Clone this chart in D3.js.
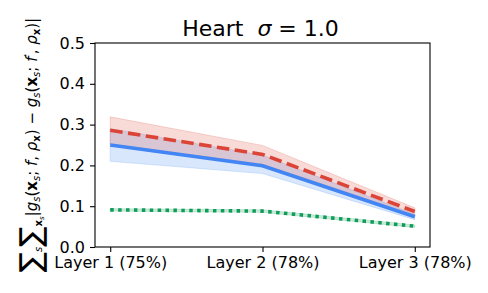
<!DOCTYPE html>
<html>
<head>
<meta charset="utf-8">
<script src="https://cdn.jsdelivr.net/npm/d3@7"></script>
<style>
  body { margin: 0; background: #fff; }
  text { font-family: "DejaVu Sans", sans-serif; }
</style>
</head>
<body>
<svg width="488" height="293"></svg>
<script>
const layers = ["Layer 1 (75%)", "Layer 2 (78%)", "Layer 3 (78%)"];

const blueMean = [0.250, 0.199, 0.074];
const blueLow  = [0.210, 0.180, 0.067];
const blueHigh = [0.290, 0.225, 0.080];

const redMean = [0.286, 0.227, 0.087];
const redLow  = [0.252, 0.203, 0.078];
const redHigh = [0.319, 0.249, 0.096];

const greenMean = [0.091, 0.088, 0.051];
const greenLow  = [0.088, 0.085, 0.048];
const greenHigh = [0.094, 0.091, 0.054];

const yTicks = [0, 0.1, 0.2, 0.3, 0.4, 0.5];

var svg = d3.select("svg"),
    margin = {top: 43, right: 58, bottom: 46, left: 95},
    width = +svg.attr("width") - margin.left - margin.right,
    height = +svg.attr("height") - margin.top - margin.bottom,
    g = svg.append("g").attr("transform", "translate(" + margin.left + "," + margin.top + ")");

var x = d3.scalePoint().domain(layers).range([0, width]).padding(0.1);
var y = d3.scaleLinear().domain([0, 0.5]).range([height, 0]);

function band(lo, hi) {
  return d3.area()
    .x(function(d, i) { return x(layers[i]); })
    .y0(function(d, i) { return y(lo[i]); })
    .y1(function(d, i) { return y(hi[i]); })(lo);
}
var line = d3.line()
    .x(function(d, i) { return x(layers[i]); })
    .y(function(d) { return y(d); });

var series = [
  {mean: blueMean, lo: blueLow, hi: blueHigh, color: "#4285F4", dash: null},
  {mean: redMean, lo: redLow, hi: redHigh, color: "#DB4437", dash: "12.5,5.5"},
  {mean: greenMean, lo: greenLow, hi: greenHigh, color: "#0F9D58", dash: "3.5,4.4"}
];

series.forEach(function(s) {
  g.append("path")
      .attr("d", band(s.lo, s.hi))
      .attr("fill", s.color)
      .attr("fill-opacity", 0.2)
      .attr("stroke", s.color)
      .attr("stroke-opacity", 0.2)
      .attr("stroke-width", 1);
});

series.forEach(function(s) {
  g.append("path")
      .datum(s.mean)
      .attr("fill", "none")
      .attr("stroke", s.color)
      .attr("stroke-width", 3.6)
      .attr("stroke-dasharray", s.dash)
      .attr("d", line);
});

// axes
var xAxis = g.append("g")
    .attr("transform", "translate(0," + height + ")")
    .call(d3.axisBottom(x).tickSize(5).tickPadding(5));
var yAxis = g.append("g")
    .call(d3.axisLeft(y).tickValues(yTicks).tickFormat(d3.format(".1f")).tickSize(5).tickPadding(5));

[xAxis, yAxis].forEach(function(a) {
  a.select(".domain").remove();
  a.selectAll("line").attr("stroke", "#000").attr("stroke-width", 1.1);
  a.selectAll("text").attr("fill", "#000").style("font-size", "16px")
    .style("font-family", "'DejaVu Sans', sans-serif");
});

// frame
g.append("rect")
    .attr("width", width)
    .attr("height", height)
    .attr("fill", "none")
    .attr("stroke", "#000")
    .attr("stroke-width", 1.1);

// title
var title = svg.append("text")
    .attr("x", margin.left + width / 2 - 2)
    .attr("y", 36)
    .attr("text-anchor", "middle")
    .style("font-size", "22px")
    .attr("fill", "#000");
title.append("tspan").text("Heart\u00a0\u00a0");
title.append("tspan").attr("font-style", "italic").text("σ");
title.append("tspan").text("\u00a0=\u00a01.0");

// y label (mathtext-like)
var yl = svg.append("text")
    .attr("transform", "translate(37," + (margin.top + height / 2) + ") rotate(-90)")
    .attr("text-anchor", "middle")
    .style("font-size", "15px")
    .attr("fill", "#000");

function part(txt, opts) {
  var t = yl.append("tspan").text(txt);
  if (opts.size) t.style("font-size", opts.size);
  if (opts.italic) t.attr("font-style", "italic");
  if (opts.bold) t.attr("font-weight", "bold");
  if (opts.dy) t.attr("dy", opts.dy);
  return t;
}
part("∑", {size: "30px", dy: 4});
part("s", {size: "10px", italic: true, dy: 1});
part("∑", {size: "30px", dy: -1});
part("x", {size: "10px", bold: true, dy: 1});
part("s", {size: "7px", italic: true, dy: 2});
part("|", {dy: -7});
part("g", {italic: true});
part("s", {size: "10px", italic: true, dy: 3});
part("(", {dy: -3});
part("x", {bold: true});
part("s", {size: "10px", italic: true, dy: 3});
part(";\u00a0", {dy: -3});
part("f", {italic: true});
part(",\u00a0", {});
part("ρ", {italic: true});
part("x", {size: "10px", bold: true, dy: 3});
part(")\u00a0−\u00a0", {dy: -3});
part("g", {italic: true});
part("s", {size: "10px", italic: true, dy: 3});
part("(", {dy: -3});
part("x", {bold: true});
part("s", {size: "10px", italic: true, dy: 3});
part(";\u00a0", {dy: -3});
part("f", {italic: true});
part("′", {size: "10px", dy: -5});
part(",\u00a0", {dy: 5});
part("ρ", {italic: true});
part("x", {size: "10px", bold: true, dy: 3});
part(")|", {dy: -3});
</script>
</body>
</html>
